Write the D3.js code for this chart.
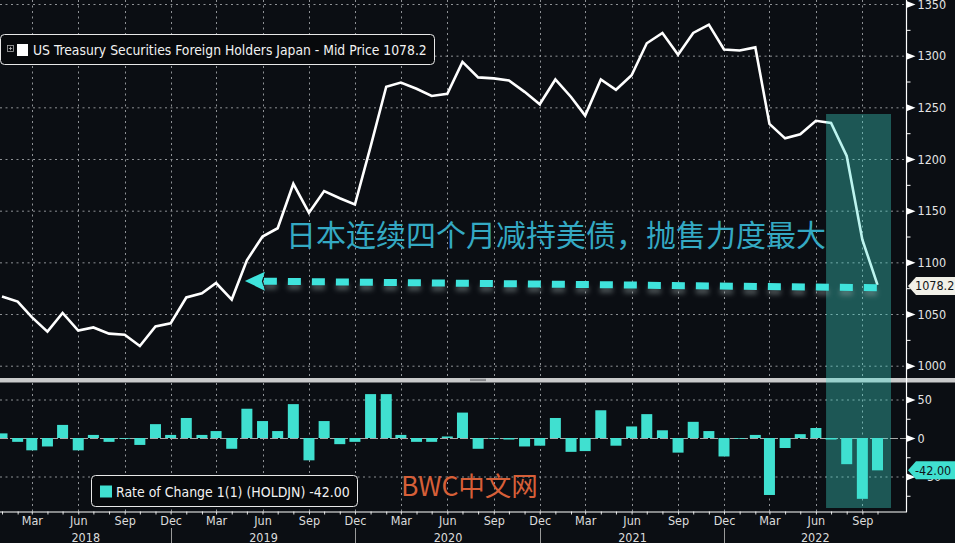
<!DOCTYPE html>
<html><head><meta charset="utf-8">
<script src="https://cdn.jsdelivr.net/npm/d3@7"></script>
<style>
html,body{margin:0;padding:0;background:#0b0e13;overflow:hidden;}
svg{display:block;}
</style></head><body>
<svg id="c" width="955" height="543"></svg>
<script>
// ---------------- DATA ----------------
const months = [
 "2018-01","2018-02","2018-03","2018-04","2018-05","2018-06","2018-07","2018-08","2018-09","2018-10","2018-11","2018-12",
 "2019-01","2019-02","2019-03","2019-04","2019-05","2019-06","2019-07","2019-08","2019-09","2019-10","2019-11","2019-12",
 "2020-01","2020-02","2020-03","2020-04","2020-05","2020-06","2020-07","2020-08","2020-09","2020-10","2020-11","2020-12",
 "2021-01","2021-02","2021-03","2021-04","2021-05","2021-06","2021-07","2021-08","2021-09","2021-10","2021-11","2021-12",
 "2022-01","2022-02","2022-03","2022-04","2022-05","2022-06","2022-07","2022-08","2022-09","2022-10"];
const holdings = [
 1067,1062,1047,1033,1051,1034,1037,1031,1030,1019,1038,1041,
 1066,1070,1080,1064,1102,1125,1133,1176,1148,1169,1162,1156,
 1212,1270,1274,1268,1261,1263,1294,1279,1278,1276,1265,1253,
 1277,1260,1242,1277,1267,1281,1312,1322,1301,1322,1330,1306,
 1305,1308,1234,1220,1224,1237,1235,1203,1122,1078.2];
const changes = [
 6,-5,-16,-11,17,-16,4,-5,-1,-9,18,4,
 26,4,9,-14,38,22,9,44,-29,22,-8,-5,
 57,57,4,-5,-5,2,33,-14,-1,-2,-11,-10,
 26,-18,-17,36,-10,15,31,10,-19,21,9,-24,
 -1,4,-74,-13,5,13,-2,-34,-79,-42];
const topTicks = [1000,1050,1100,1150,1200,1250,1300,1350];
const topMinor = [1025,1075,1125,1175,1225,1275,1325];
const botTicks = [-50,0,50];
const botMinor = [-75,-25,25];
const quarterMonths = ["2018-03","2018-06","2018-09","2018-12","2019-03","2019-06","2019-09","2019-12",
 "2020-03","2020-06","2020-09","2020-12","2021-03","2021-06","2021-09","2021-12","2022-03","2022-06","2022-09"];
const yearLabels = ["2018","2019","2020","2021","2022"];
const yearSepMonths = ["2018-12","2019-12","2020-12","2021-12"];
const legendTopText = "US Treasury Securities Foreign Holders Japan - Mid Price 1078.2";
const legendBotText = "Rate of Change 1(1) (HOLDJN) -42.00";
const annotationText = "日本连续四个月减持美债，抛售力度最大";
const watermarkText = "BWC中文网";
const lastValue = 1078.2, lastChange = -42;
const lastValueLabel = "1078.2", lastChangeLabel = "-42.00";
const highlightFrom = "2022-07", highlightTo = "2022-10";
const arrowFrom = {m:"2022-10", v:1075.5}, arrowTo = {m:"2019-05", v:1082};

// ---------------- LAYOUT ----------------
const W=955,H=543, AX=906, XAY=511.5;
const BG="#0b0e13", TURQ="#40e0d0", GRID="#8f9296";
const FONT="'DejaVu Sans Condensed','DejaVu Sans',sans-serif";
const parse=d3.timeParse("%Y-%m");
const dates=months.map(parse);
const svg=d3.select("#c");

const x=d3.scaleTime().domain([parse("2018-01"),parse("2022-10")]).range([2,877.5]);
const yT=d3.scaleLinear().domain([1000,1350]).range([365.7,4]);
const yB=d3.scaleLinear().domain([-50,50]).range([476.5,399.5]);

svg.append("rect").attr("width",W).attr("height",H).attr("fill",BG);
const defs=svg.append("defs");
defs.append("clipPath").attr("id","cpT").append("rect").attr("x",0).attr("y",0).attr("width",AX).attr("height",378);
defs.append("clipPath").attr("id","cpB").append("rect").attr("x",0).attr("y",383).attr("width",AX).attr("height",XAY-383);
const blur=defs.append("filter").attr("id","glow").attr("x","-10%").attr("y","-200%").attr("width","120%").attr("height","500%");
blur.append("feGaussianBlur").attr("stdDeviation",2.5);

// grids
const gT=svg.append("g").attr("clip-path","url(#cpT)");
const gB=svg.append("g").attr("clip-path","url(#cpB)");
gT.selectAll("line.h").data(topTicks).join("line")
 .attr("x1",0).attr("x2",AX).attr("y1",d=>yT(d)+0.5).attr("y2",d=>yT(d)+0.5)
 .attr("stroke",GRID).attr("stroke-dasharray","2,3.5");
gT.selectAll("line.v").data(quarterMonths).join("line")
 .attr("x1",d=>Math.round(x(parse(d)))+0.5).attr("x2",d=>Math.round(x(parse(d)))+0.5).attr("y1",0).attr("y2",378)
 .attr("stroke",GRID).attr("stroke-dasharray","2,3.5");
gB.selectAll("line.h").data([-50,50]).join("line")
 .attr("x1",0).attr("x2",AX).attr("y1",d=>yB(d)+0.5).attr("y2",d=>yB(d)+0.5)
 .attr("stroke",GRID).attr("stroke-dasharray","2,3.5");
gB.selectAll("line.v").data(quarterMonths).join("line")
 .attr("x1",d=>Math.round(x(parse(d)))+0.5).attr("x2",d=>Math.round(x(parse(d)))+0.5).attr("y1",383).attr("y2",XAY)
 .attr("stroke",GRID).attr("stroke-dasharray","2,3.5");
gB.append("line").attr("x1",0).attr("x2",AX).attr("y1",yB(0)+0.5).attr("y2",yB(0)+0.5)
 .attr("stroke","#a8a8a8").attr("stroke-dasharray","8,2");

// separator
svg.append("rect").attr("x",0).attr("y",378).attr("width",W).attr("height",4.5).attr("fill","#c9cacb");
[379.3,380.6].forEach(yy=>svg.append("line").attr("x1",470).attr("x2",486).attr("y1",yy).attr("y2",yy).attr("stroke","#6d6f72").attr("stroke-width",0.8));

// bars
const BW=11;
gB.selectAll("rect.bar").data(changes).join("rect")
 .attr("x",(d,i)=>x(dates[i])-BW/2).attr("width",BW)
 .attr("y",d=>yB(Math.max(0,d))).attr("height",d=>Math.abs(yB(d)-yB(0)))
 .attr("fill",TURQ);

// line
gT.append("path").datum(holdings)
 .attr("d",d3.line().x((d,i)=>x(dates[i])).y(d=>yT(d)))
 .attr("fill","none").attr("stroke","#ffffff").attr("stroke-width",2.6).attr("stroke-linejoin","miter");

// highlight rect
const hx0=x(parse(highlightFrom))-5, hx1=x(parse(highlightTo))+13.5;
svg.append("rect").attr("x",hx0).attr("y",114).attr("width",hx1-hx0).attr("height",394)
 .attr("fill",TURQ).attr("fill-opacity",0.35);

// dashed arrow
const ax1=x(parse(arrowFrom.m)), ay1=yT(arrowFrom.v), ax0=x(parse(arrowTo.m)), ay0=yT(arrowTo.v);
const headLen=19;
const tipX=ax0-2, tipY=ay0;
const ang=Math.atan2(ay1-ay0, ax1-ax0);
const sx=tipX+headLen*Math.cos(ang), sy=tipY+headLen*Math.sin(ang);
svg.append("line").attr("x1",sx).attr("y1",sy+5).attr("x2",ax1).attr("y2",ay1+5)
 .attr("stroke","#9aa6a6").attr("stroke-opacity",0.45).attr("stroke-width",6).attr("stroke-dasharray","13,11").attr("filter","url(#glow)");
svg.append("line").attr("x1",sx).attr("y1",sy).attr("x2",ax1).attr("y2",ay1)
 .attr("stroke","#3fe3dc").attr("stroke-width",7).attr("stroke-dasharray","13,11");
svg.append("path")
 .attr("d",`M${tipX},${tipY} L${sx+1},${sy-9.5} L${sx-2},${sy} L${sx+1},${sy+9.5} Z`)
 .attr("fill","#3fe3dc");

// annotation
svg.append("text").attr("x",286).attr("y",246).text(annotationText)
 .attr("font-family","'Noto Sans CJK SC',sans-serif").attr("font-size",30).attr("fill","#34a9c3");

// legends
function fit(t,target){const n=t.node();const l=n.getComputedTextLength();const fs=parseFloat(t.attr("font-size"));t.attr("font-size",fs*target/l);}
const lg1=svg.append("g");
lg1.append("rect").attr("x",0.5).attr("y",34.5).attr("width",434).attr("height",30).attr("rx",4)
 .attr("fill","#07090c").attr("stroke","#e8e8e8").attr("stroke-width",1);
lg1.append("rect").attr("x",7.5).attr("y",45.5).attr("width",6).attr("height",6).attr("fill","none").attr("stroke","#aaaaaa").attr("stroke-width",0.8);
lg1.append("path").attr("d","M8.8,48.5 H12.2 M10.5,46.8 V50.2").attr("stroke","#bbbbbb").attr("stroke-width",0.8);
lg1.append("rect").attr("x",17).attr("y",44).attr("width",11).attr("height",12).attr("fill","#ffffff");
const t1=lg1.append("text").attr("x",33).attr("y",55).text(legendTopText)
 .attr("font-family",FONT).attr("font-size",13).attr("fill","#f2f2f2");
fit(t1,394);

const lg2=svg.append("g");
lg2.append("rect").attr("x",91.5).attr("y",475.5).attr("width",266).attr("height",31).attr("rx",4)
 .attr("fill","#07090c").attr("stroke","#e8e8e8").attr("stroke-width",1);
lg2.append("rect").attr("x",100).attr("y",485.5).attr("width",12).attr("height",12).attr("fill",TURQ);
const t2=lg2.append("text").attr("x",116).attr("y",496.5).text(legendBotText)
 .attr("font-family",FONT).attr("font-size",13).attr("fill","#f2f2f2");
fit(t2,234);

// watermark
svg.append("text").attr("x",401).attr("y",495.5).text(watermarkText)
 .attr("font-family","'Noto Sans CJK SC',sans-serif").attr("font-size",26.5).attr("fill","#d65f38");

// right axis
const axisG=svg.append("g");
axisG.append("line").attr("x1",AX+0.5).attr("x2",AX+0.5).attr("y1",0).attr("y2",XAY+0.5).attr("stroke","#ffffff").attr("stroke-width",1.2);
function rightTicks(scale,major,minor,fmt){
  const gy=axisG.append("g").attr("transform",`translate(${AX+0.5},0)`)
   .call(d3.axisRight(scale).tickValues(major).tickSize(0).tickPadding(11).tickFormat(fmt));
  gy.select(".domain").remove();
  gy.selectAll("text").attr("font-family",FONT).attr("font-size",12.5).attr("fill","#e4e4e4");
  gy.selectAll(".tick").append("path").attr("d","M0,-3.5 L9,0 L0,3.5 Z").attr("fill","#ffffff");
  const gm=axisG.append("g").attr("transform",`translate(${AX+0.5},0)`)
   .call(d3.axisRight(scale).tickValues(minor).tickSize(4).tickFormat(""));
  gm.select(".domain").remove();
  gm.selectAll("line").attr("stroke","#ffffff");
}
rightTicks(yT,topTicks,topMinor,d3.format("d"));
rightTicks(yB,botTicks,botMinor,d3.format("d"));

// x axis
const xg=svg.append("g").attr("transform",`translate(0,${XAY})`)
 .call(d3.axisBottom(x).tickValues(dates).tickSize(3).tickFormat(""));
xg.select(".domain").remove();
xg.selectAll("line").attr("stroke","#e0e0e0");
svg.append("line").attr("x1",0).attr("x2",AX+1).attr("y1",XAY+0.5).attr("y2",XAY+0.5).attr("stroke","#ffffff").attr("stroke-width",1.2);
const xl=svg.append("g").attr("transform",`translate(0,${XAY})`)
 .call(d3.axisBottom(x).tickValues(quarterMonths.map(parse)).tickSize(0).tickPadding(5).tickFormat(d3.timeFormat("%b")));
xl.select(".domain").remove();
xl.selectAll("text").attr("font-family",FONT).attr("font-size",12.5).attr("fill","#dcdcdc");
const sepX=yearSepMonths.map(d=>Math.round(x(parse(d)))+0.5);
const bounds=[0,...sepX,AX];
svg.selectAll("text.yr").data(yearLabels).join("text").attr("class","yr")
 .attr("x",(d,i)=>(bounds[i]+bounds[i+1])/2).attr("y",541.5).attr("text-anchor","middle").text(d=>d)
 .attr("font-family",FONT).attr("font-size",12.5).attr("fill","#dcdcdc");
svg.selectAll("line.ysep").data(sepX).join("line").attr("class","ysep")
 .attr("x1",d=>d).attr("x2",d=>d).attr("y1",528).attr("y2",543)
 .attr("stroke","#9a9a9a");

// value tags
function tag(yy,fill,txt){
  const g=svg.append("g");
  g.append("path").attr("d",`M${AX+2},${yy} L${AX+10},${yy-9} L${W},${yy-9} L${W},${yy+9} L${AX+10},${yy+9} Z`).attr("fill",fill);
  g.append("text").attr("x",AX+9).attr("y",yy+4.5).text(txt).attr("font-family",FONT).attr("font-size",12.5).attr("fill","#111418");
}
tag(yT(lastValue)+1,"#f1f0e8",lastValueLabel);
tag(yB(lastChange),TURQ,lastChangeLabel);
</script>
</body></html>
